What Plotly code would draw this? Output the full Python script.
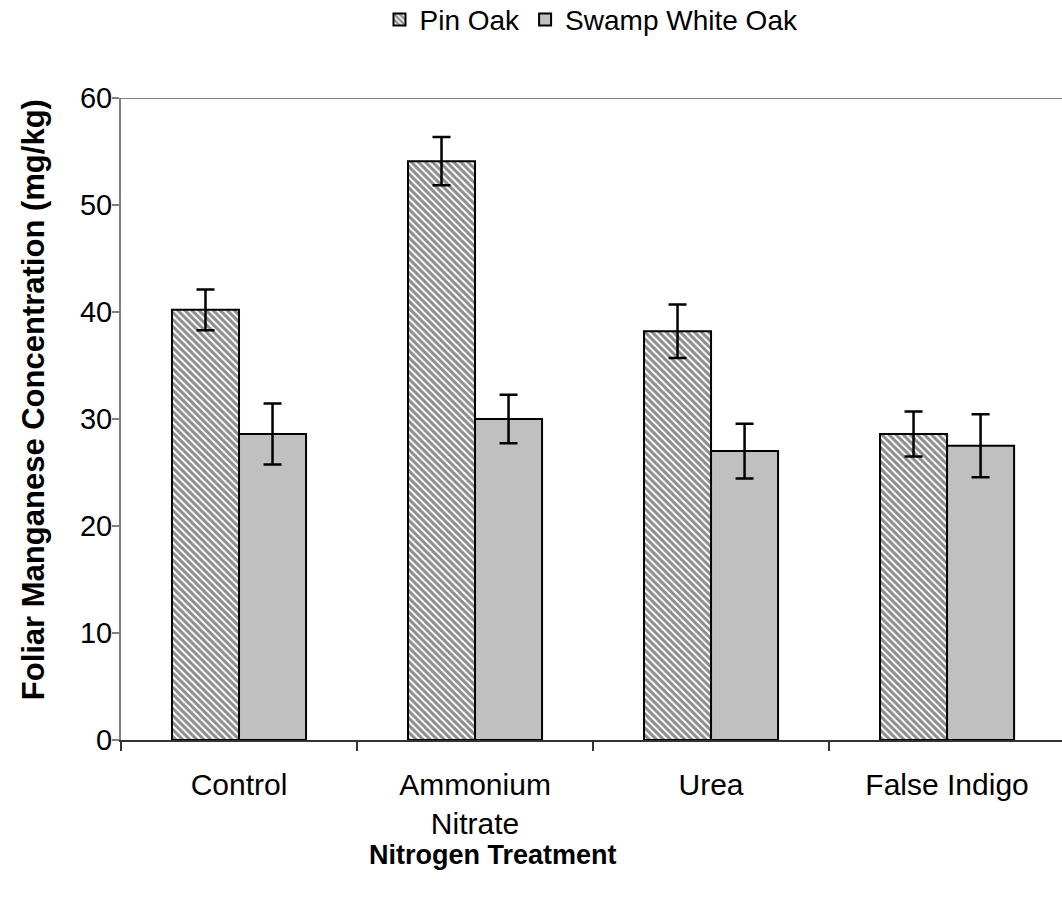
import plotly.graph_objects as go

# Foliar manganese by nitrogen treatment, two oak species
treatments = ["Control", "Ammonium<br>Nitrate", "Urea", "False Indigo"]
pin_oak = [40.2, 54.1, 38.2, 28.6]
pin_oak_err = [1.9, 2.25, 2.5, 2.1]
swamp_white_oak = [28.6, 30.0, 27.0, 27.5]
swamp_white_oak_err = [2.85, 2.27, 2.55, 2.95]

FONT = "Liberation Sans, Arial, sans-serif"

fig = go.Figure()
fig.add_trace(go.Bar(
    name="Pin Oak", x=treatments, y=pin_oak,
    marker=dict(color="white", line=dict(color="black", width=2),
                pattern=dict(shape="\\", fgcolor="#1a1a1a", bgcolor="white",
                             size=5, solidity=0.6)),
    error_y=dict(type="data", array=pin_oak_err, color="black",
                 thickness=2.5, width=9),
))
fig.add_trace(go.Bar(
    name="Swamp White Oak", x=treatments, y=swamp_white_oak,
    marker=dict(color="#C0C0C0", line=dict(color="black", width=2)),
    error_y=dict(type="data", array=swamp_white_oak_err, color="black",
                 thickness=2.5, width=9),
))

# Plot-area top border
fig.add_shape(type="line", xref="paper", yref="y", x0=0, x1=1, y0=60, y1=60,
              line=dict(color="#808080", width=2))

# Axis titles
fig.add_annotation(text="<b>Nitrogen Treatment</b>", xref="paper", yref="paper",
                   x=0.395, y=-0.179, xanchor="center", yanchor="middle",
                   showarrow=False, font=dict(size=27))
fig.add_annotation(text="<b>Foliar Manganese Concentration (mg/kg)</b>",
                   xref="paper", yref="paper", x=-0.093, y=0.53,
                   xanchor="center", yanchor="middle", textangle=-90,
                   showarrow=False, font=dict(size=31))

fig.update_layout(
    width=1062, height=902,
    margin=dict(l=121, r=0, t=98, b=162),
    paper_bgcolor="white", plot_bgcolor="white",
    barmode="group", bargap=0.432, bargroupgap=0,
    font=dict(family=FONT, size=28, color="black"),
    showlegend=True,
    legend=dict(orientation="h", x=0.5, xanchor="center", xref="paper",
                y=0.978, yanchor="middle", yref="container",
                font=dict(size=28), itemwidth=30, traceorder="normal"),
    xaxis=dict(
        type="category", range=[-0.5, 3.487],
        showline=True, linecolor="#333333", linewidth=1.5,
        ticks="outside", tickson="boundaries", ticklen=9,
        tickcolor="#333333", tickwidth=1.5,
        ticklabelstandoff=17,
        tickfont=dict(size=30),
        showgrid=False, zeroline=False,
    ),
    yaxis=dict(
        range=[0, 60], dtick=10,
        showline=True, linecolor="#808080", linewidth=2,
        ticks="outside", ticklen=7, tickcolor="#808080", tickwidth=1.5,
        ticklabelstandoff=-6,
        tickfont=dict(size=29),
        showgrid=False, zeroline=False,
    ),
)

fig.write_html("out.html")
